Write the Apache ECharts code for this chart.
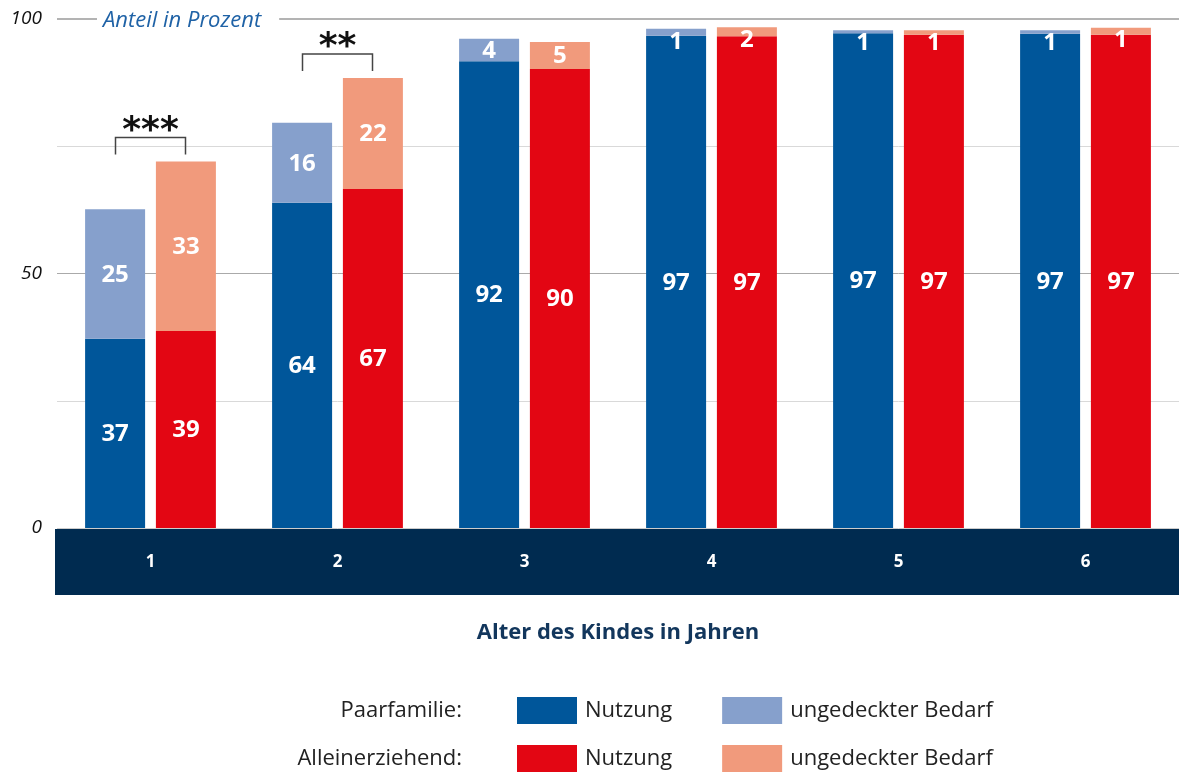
<!DOCTYPE html>
<html>
<head>
<meta charset="utf-8">
<script src="https://cdn.jsdelivr.net/npm/echarts@6/dist/echarts.min.js"></script>
<style>
  html, body { margin: 0; padding: 0; background: #fff; }
  #chart { width: 1179px; height: 774px; }
</style>
</head>
<body>
<div id="chart"></div>
<script>
// Alter des Kindes in Jahren
const ages = ["1", "2", "3", "4", "5", "6"];
// Paarfamilie
const paarNutzung = [37.2, 63.9, 91.7, 96.7, 97.2, 97.1];
const paarBedarf = [25.4, 15.7, 4.4, 1.4, 0.6, 0.7];
// Alleinerziehend
const alleinNutzung = [38.7, 66.6, 90.2, 96.6, 96.9, 96.9];
const alleinBedarf = [33.3, 21.8, 5.3, 1.8, 0.9, 1.4];
// Signifikanz je Altersgruppe
const sigStars = ["***", "**", "", "", "", ""];
const yTicks = [0, 50, 100];

const colors = {
  paarUse: "#00569a",
  paarNeed: "#86a0cc",
  alleinUse: "#e30613",
  alleinNeed: "#f19a7c",
  band: "#002b50"
};
const fontFamily = "'Open Sans', 'Noto Sans', sans-serif";

const myChart = echarts.init(document.getElementById("chart"));

function segmentData(values) {
  return values.map(v => {
    if (v < 3) {
      return { value: v, label: { position: "insideTop", distance: 0 } };
    }
    return v;
  });
}

const barLabel = {
  show: true,
  position: "inside",
  color: "#fff",
  fontFamily: fontFamily,
  fontWeight: "bold",
  fontSize: 24,
  offset: [0, 1],
  formatter: p => Math.round(p.value)
};

const sigData = [];
sigStars.forEach((s, i) => {
  if (s) {
    sigData.push([i, Math.max(paarNutzung[i] + paarBedarf[i], alleinNutzung[i] + alleinBedarf[i])]);
  }
});
const sigLabels = sigStars.filter(s => s);

const legendText = { fontSize: 22, color: "#222", fontFamily: fontFamily };

const option = {
  animation: false,
  textStyle: { fontFamily: fontFamily },
  title: {
    text: "Anteil in Prozent",
    left: 97,
    top: 8,
    padding: [2, 18, 2, 6],
    backgroundColor: "#fff",
    textStyle: {
      color: "#1f62a6",
      fontStyle: "italic",
      fontWeight: "normal",
      fontSize: 22,
      fontFamily: fontFamily
    }
  },
  grid: { left: 57, right: 0, top: 19, bottom: 246 },
  legend: [
    {
      data: ["Paarfamilie: Nutzung", "Paarfamilie: ungedeckter Bedarf"],
      left: 517,
      top: 697,
      padding: 0,
      icon: "rect",
      itemWidth: 60,
      itemHeight: 27,
      itemGap: 50,
      selectedMode: false,
      formatter: name => name.split(": ")[1],
      textStyle: Object.assign({ padding: [3, 0, 0, 3] }, legendText)
    },
    {
      data: ["Alleinerziehend: Nutzung", "Alleinerziehend: ungedeckter Bedarf"],
      left: 517,
      top: 745,
      padding: 0,
      icon: "rect",
      itemWidth: 60,
      itemHeight: 27,
      itemGap: 50,
      selectedMode: false,
      formatter: name => name.split(": ")[1],
      textStyle: Object.assign({ padding: [3, 0, 0, 3] }, legendText)
    }
  ],
  graphic: [
    {
      type: "rect",
      left: 55,
      top: 529,
      z: -10,
      shape: { width: 1124, height: 66 },
      style: { fill: colors.band }
    },
    {
      type: "text",
      right: 1179 - 462,
      top: 700,
      style: { text: "Paarfamilie:", fill: "#222", fontSize: 22, fontFamily: fontFamily }
    },
    {
      type: "text",
      right: 1179 - 462,
      top: 748,
      style: { text: "Alleinerziehend:", fill: "#222", fontSize: 22, fontFamily: fontFamily }
    }
  ],
  xAxis: {
    type: "category",
    data: ages,
    z: 5,
    axisLine: { show: false },
    axisTick: { show: false },
    axisLabel: {
      color: "#fff",
      fontWeight: "bold",
      fontSize: 17,
      margin: 26,
      fontFamily: fontFamily
    },
    name: "Alter des Kindes in Jahren",
    nameLocation: "middle",
    nameGap: 94,
    nameTextStyle: {
      color: "#12365c",
      fontWeight: "bold",
      fontSize: 22,
      fontFamily: fontFamily
    }
  },
  yAxis: {
    type: "value",
    min: 0,
    max: 100,
    interval: 25,
    axisLine: { show: false },
    axisTick: { show: false },
    axisLabel: {
      color: "#111",
      fontStyle: "italic",
      fontSize: 19,
      margin: 15,
      fontFamily: fontFamily,
      formatter: v => (yTicks.indexOf(v) >= 0 ? v : "")
    },
    splitLine: {
      lineStyle: { color: ["#ccc", "#d9d9d9", "#aaa", "#d9d9d9", "#aaa"], width: 1 }
    }
  },
  series: [
    {
      name: "Paarfamilie: Nutzung",
      type: "bar",
      stack: "paar",
      barWidth: 60,
      barGap: "18%",
      itemStyle: { color: colors.paarUse },
      label: barLabel,
      data: segmentData(paarNutzung),
      markLine: {
        silent: true,
        symbol: "none",
        label: { show: false },
        lineStyle: { color: "#b3b3b3", width: 2, type: "solid" },
        data: [{ yAxis: 100 }]
      }
    },
    {
      name: "Paarfamilie: ungedeckter Bedarf",
      type: "bar",
      stack: "paar",
      barWidth: 60,
      itemStyle: { color: colors.paarNeed },
      label: barLabel,
      data: segmentData(paarBedarf)
    },
    {
      name: "Alleinerziehend: Nutzung",
      type: "bar",
      stack: "allein",
      barWidth: 60,
      barGap: "18%",
      itemStyle: { color: colors.alleinUse },
      label: barLabel,
      data: segmentData(alleinNutzung)
    },
    {
      name: "Alleinerziehend: ungedeckter Bedarf",
      type: "bar",
      stack: "allein",
      barWidth: 60,
      itemStyle: { color: colors.alleinNeed },
      label: barLabel,
      data: segmentData(alleinBedarf)
    },
    {
      type: "custom",
      silent: true,
      z: 10,
      data: sigData,
      renderItem: (params, api) => {
        const pt = api.coord([api.value(0), api.value(1)]);
        const cx = pt[0];
        const y = pt[1];
        const half = 35;
        return {
          type: "group",
          children: [
            {
              type: "polyline",
              shape: { points: [[cx - half, y - 7], [cx - half, y - 24], [cx + half, y - 24], [cx + half, y - 7]] },
              style: { stroke: "#444", lineWidth: 1.5, fill: null }
            },
            {
              type: "text",
              style: {
                text: sigLabels[params.dataIndex],
                x: cx,
                y: y - 30,
                align: "center",
                verticalAlign: "middle",
                fontSize: 36,
                fontWeight: "bold",
                fontFamily: "'DejaVu Sans', sans-serif",
                fill: "#111"
              }
            }
          ]
        };
      }
    }
  ]
};

myChart.setOption(option);
</script>
</body>
</html>
